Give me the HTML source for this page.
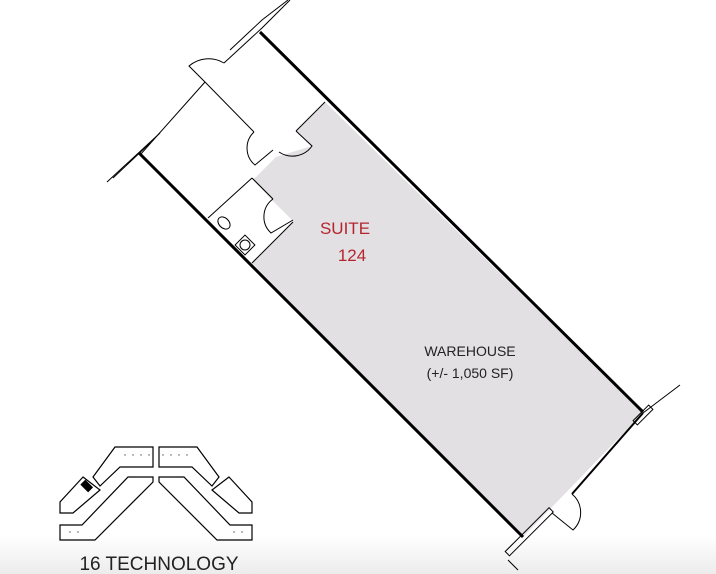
<!DOCTYPE html>
<html><head><style>
html,body{margin:0;padding:0;background:#fff}
body{width:716px;height:574px;overflow:hidden;position:relative;font-family:"Liberation Sans",sans-serif}
.bot{position:absolute;left:0;top:535px;width:716px;height:39px;background:linear-gradient(#fff,#ececec)}
</style></head><body>
<div class="bot"></div>
<svg width="716" height="574" style="position:absolute;left:0;top:0" xmlns="http://www.w3.org/2000/svg">
<g fill="none" stroke="#000" stroke-width="1">
<polygon points="325,102 643,413 523,537 252,263 293,221 272,200 253,180 276,157 312,146 296,131" fill="#e2e0e2" stroke="none"/>
<line x1="260" y1="32" x2="643" y2="412" stroke-width="3"/>
<line x1="139" y1="153" x2="523" y2="537" stroke-width="3"/>
<polyline points="107,182 160,133"/>
<polyline points="140,155 205,82"/>
<polyline points="224,63 262,28 290,0"/>
<polyline points="230,50 262,20 288,0"/>
<polyline points="113,178 150,143"/>
<path d="M205,82 L189,66 A30,30 0 0 1 224,63"/>
<polyline points="205,82 254,132"/>
<path d="M254,132 A22,22 0 0 0 255,165 L273,150"/>
<path d="M296,131 L312,146 A24,24 0 0 1 279,152"/>
<line x1="296" y1="131" x2="325" y2="102"/>
<line x1="252" y1="178" x2="208" y2="218"/>
<polyline points="252,178 273,199"/>
<path d="M273,199 A22,22 0 0 0 271,233 L293,220"/>
<line x1="252" y1="263" x2="293" y2="222"/>
<ellipse cx="224" cy="223" rx="5" ry="7" transform="rotate(-45 224 223)"/>
<rect x="238" y="238" width="14" height="14" transform="rotate(-45 245 245)"/>
<circle cx="245" cy="245" r="5"/>
<polyline points="643,413 680,385"/>
<rect x="632" y="412" width="22" height="6" transform="rotate(-45 643 415)"/>
<line x1="572" y1="494" x2="643" y2="413" stroke-width="2"/>
<path d="M572,494 A24,24 0 0 1 573,530 L552,513"/>
<rect x="500" y="533" width="62" height="6" transform="rotate(-45 525 536)"/>
<line x1="508" y1="560" x2="518" y2="570"/>
</g>
<text x="345" y="234" fill="#b5252f" font-size="17" text-anchor="middle">SUITE</text>
<text x="352" y="261" fill="#b5252f" font-size="17" text-anchor="middle">124</text>
<text x="470" y="356" fill="#222" font-size="14" text-anchor="middle">WAREHOUSE</text>
<text x="470" y="378" fill="#222" font-size="14" text-anchor="middle">(+/- 1,050 SF)</text>
<g id="km" fill="none" stroke="#000" stroke-width="1.2">
<polygon points="115,447 153,447 153,467 120,467 100,486 93,477"/>
<polygon points="83,477 100,490 73,513 60,513 60,502"/>
<polygon points="128,477 153,477 153,482 95,540 60,540 60,525 82,525"/>
</g>
<use href="#km" transform="translate(312,0) scale(-1,1)"/>
<g fill="#000"><rect x="83" y="481" width="7" height="11" transform="rotate(-45 86 486)"/></g>
<g fill="#555">
<circle cx="125" cy="455" r="0.7"/><circle cx="133" cy="455" r="0.7"/><circle cx="141" cy="455" r="0.7"/><circle cx="149" cy="455" r="0.7"/>
<circle cx="163" cy="455" r="0.7"/><circle cx="171" cy="455" r="0.7"/><circle cx="179" cy="455" r="0.7"/><circle cx="187" cy="455" r="0.7"/>
<circle cx="70" cy="532" r="0.7"/><circle cx="78" cy="532" r="0.7"/><circle cx="234" cy="532" r="0.7"/><circle cx="242" cy="532" r="0.7"/>
</g>
<text x="159" y="570" fill="#222" font-size="19" text-anchor="middle">16 TECHNOLOGY</text>
</svg>
</body></html>
